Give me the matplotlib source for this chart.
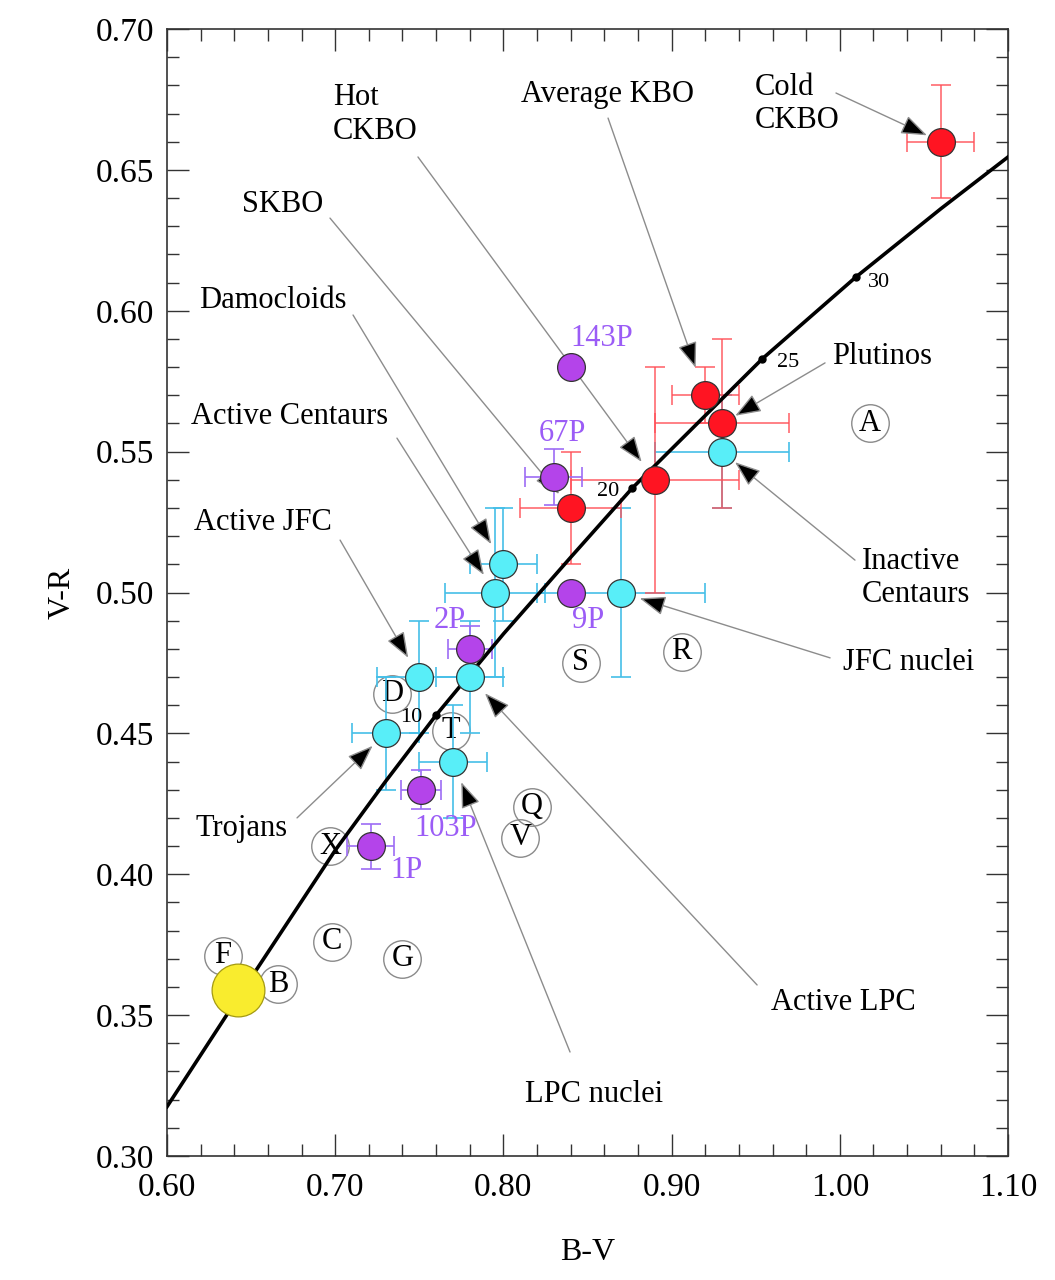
import matplotlib
matplotlib.use("Agg")
import matplotlib.pyplot as plt
import matplotlib.ticker as ticker
import numpy as np

plt.rcParams["font.family"] = ["Liberation Serif", "DejaVu Serif"]

# ── data (B-V, V-R colours) ────────────────────────────────────────────────
# KBO populations (red)
kbo_labels = ["Cold\nCKBO", "Average KBO", "Plutinos", "Hot\nCKBO", "SKBO"]
kbo_bv = [1.06, 0.92, 0.93, 0.89, 0.84]
kbo_vr = [0.66, 0.57, 0.56, 0.54, 0.53]
kbo_bv_err = [0.02, 0.02, 0.04, 0.05, 0.03]
kbo_vr_err = [0.02, 0.01, 0.03, 0.04, 0.02]

# Centaurs, comets, Trojans (cyan)
cen_labels = ["Inactive\nCentaurs", "JFC nuclei", "Damocloids", "Active Centaurs",
              "Active JFC", "Active LPC", "Trojans", "LPC nuclei"]
cen_bv = [0.93, 0.87, 0.80, 0.795, 0.75, 0.78, 0.73, 0.77]
cen_vr = [0.55, 0.50, 0.51, 0.50, 0.47, 0.47, 0.45, 0.44]
cen_bv_err = [0.04, 0.05, 0.02, 0.03, 0.025, 0.02, 0.02, 0.02]
cen_vr_err = [0.02, 0.03, 0.02, 0.03, 0.02, 0.02, 0.02, 0.02]

# individual comets (purple)
comet_labels = ["143P", "67P", "9P", "2P", "103P", "1P"]
comet_bv = [0.84, 0.83, 0.84, 0.78, 0.751, 0.721]
comet_vr = [0.58, 0.541, 0.50, 0.48, 0.43, 0.41]
comet_bv_err = [0.0, 0.017, 0.0, 0.013, 0.012, 0.014]
comet_vr_err = [0.0, 0.010, 0.0, 0.008, 0.007, 0.008]

# Sun
sun_bv = 0.642
sun_vr = 0.359

# asteroid taxonomic classes
tax_letters = ["A", "R", "S", "D", "T", "Q", "V", "X", "C", "G", "F", "B"]
tax_bv = [1.018, 0.906, 0.846, 0.734, 0.769, 0.817, 0.810, 0.697, 0.698, 0.740, 0.633, 0.666]
tax_vr = [0.560, 0.479, 0.475, 0.464, 0.451, 0.424, 0.413, 0.410, 0.376, 0.370, 0.371, 0.361]

# reddening line
curve_bv = [0.600, 0.642, 0.700, 0.730, 0.760, 0.800, 0.840, 0.8765, 0.954, 1.0096, 1.060, 1.100]
curve_vr = [0.3175, 0.356, 0.4085, 0.433, 0.4565, 0.4853, 0.5125, 0.537, 0.583, 0.612, 0.6362, 0.6546]

# gradient marks on the line
grad_labels = ["10", "20", "25", "30"]
grad_bv = [0.760, 0.8765, 0.954, 1.0096]
grad_vr = [0.4565, 0.537, 0.583, 0.612]

# ── layout (text position, arrow start, arrow shrink in pt) ────────────────
kbo_text = [(0.9496, 0.6734, "left"), (0.8616, 0.6766, "center"), (1.0251, 0.5839, "center"),
            (0.6987, 0.6697, "left"), (0.669, 0.6379, "center")]
kbo_arrow = [(0.9977, 0.6773, 11), (0.8622, 0.6684, 21), (0.9912, 0.5815, 11),
             (0.7492, 0.6546, 16), (0.6969, 0.6329, 13)]
cen_text = [(1.0132, 0.5051, "left"), (1.0406, 0.475, "center"), (0.663, 0.6038, "center"),
            (0.6731, 0.5623, "center"), (0.6571, 0.5247, "center"), (1.0019, 0.3543, "center"),
            (0.6446, 0.4164, "center"), (0.8539, 0.3217, "center")]
cen_arrow = [(1.009, 0.5115, 12), (0.9942, 0.4768, 14), (0.7106, 0.5985, 17),
             (0.7367, 0.5548, 15), (0.7029, 0.5186, 16), (0.9508, 0.3607, 16),
             (0.6773, 0.4200, 13), (0.8396, 0.3369, 16)]
comet_text = [(0.8586, 0.5903), (0.8348, 0.5563), (0.8503, 0.4902),
              (0.7683, 0.4902), (0.7659, 0.4164), (0.7421, 0.4012)]
grad_text = [(0.7451, 0.4555), (0.8622, 0.5357), (0.9692, 0.5818), (1.0233, 0.6102)]

RED, RED_ERR = "#ff1422", "#ff5058"
CYAN, CYAN_ERR = "#58eef8", "#45bfe8"
PURPLE, PURPLE_ERR, PURPLE_TXT = "#b444ea", "#9d6cf5", "#9b5cf6"

fig = plt.figure(figsize=(10.55, 12.8), dpi=100)
ax = fig.add_axes([0.1583, 0.0969, 0.7972, 0.8804])


def draw_group(bv, vr, bv_err, vr_err, face, err_col, alpha=1.0):
    for x, y, ex, ey in zip(bv, vr, bv_err, vr_err):
        if ex > 0 or ey > 0:
            ax.errorbar(x, y, xerr=ex, yerr=ey, fmt="none", ecolor=err_col,
                        elinewidth=1.2, capsize=7, capthick=1.2, alpha=alpha, zorder=2)
    ax.plot(bv, vr, "o", ms=20, mfc=face, mec="#333333", mew=0.9, ls="none", zorder=5)


# taxonomic class circles
ax.plot(tax_bv, tax_vr, "o", ms=27, mfc="none", mec="#8a8a8a", mew=1.0, ls="none", zorder=1)
for letter, x, y in zip(tax_letters, tax_bv, tax_vr):
    ax.text(x, y, letter, fontsize=22, ha="center", va="center", zorder=1)

draw_group(cen_bv, cen_vr, cen_bv_err, cen_vr_err, CYAN, CYAN_ERR)
draw_group(kbo_bv, kbo_vr, kbo_bv_err, kbo_vr_err, RED, RED_ERR, alpha=0.85)
draw_group(comet_bv, comet_vr, comet_bv_err, comet_vr_err, PURPLE, PURPLE_ERR)

# reddening line with gradient marks
ax.plot(curve_bv, curve_vr, color="black", lw=2.6, zorder=4, solid_joinstyle="round")
ax.plot(grad_bv, grad_vr, "o", ms=5, color="black", zorder=4)
for lab, (tx, ty) in zip(grad_labels, grad_text):
    ax.text(tx, ty, lab, fontsize=16, ha="center", va="center", zorder=4)

# Sun
ax.plot([sun_bv], [sun_vr], "o", ms=38, mfc="#f9ec2e", mec="#a49a10", mew=0.9, zorder=6)

# labelled arrows
arrow_kw = dict(arrowstyle="-|>,head_length=0.8,head_width=0.3", fc="black",
                ec="#8c8c8c", lw=1.0, shrinkA=0, mutation_scale=20)
for labels, bv, vr, texts, arrows in [(kbo_labels, kbo_bv, kbo_vr, kbo_text, kbo_arrow),
                                      (cen_labels, cen_bv, cen_vr, cen_text, cen_arrow)]:
    for lab, x, y, (tx, ty, ha), (sx, sy, shr) in zip(labels, bv, vr, texts, arrows):
        ax.text(tx, ty, lab, fontsize=22, ha=ha, va="center", linespacing=1.2, zorder=7)
        ax.annotate("", xy=(x, y), xytext=(sx, sy),
                    arrowprops=dict(arrow_kw, shrinkB=shr), zorder=3)

for lab, (tx, ty) in zip(comet_labels, comet_text):
    ax.text(tx, ty, lab, fontsize=22, ha="center", va="center", color=PURPLE_TXT, zorder=7)

# axes
ax.set_xlim(0.60, 1.10)
ax.set_ylim(0.30, 0.70)
ax.xaxis.set_major_locator(ticker.MultipleLocator(0.10))
ax.xaxis.set_minor_locator(ticker.MultipleLocator(0.02))
ax.yaxis.set_major_locator(ticker.MultipleLocator(0.05))
ax.yaxis.set_minor_locator(ticker.MultipleLocator(0.01))
ax.xaxis.set_major_formatter(ticker.FormatStrFormatter("%.2f"))
ax.yaxis.set_major_formatter(ticker.FormatStrFormatter("%.2f"))
ax.tick_params(which="both", direction="in", top=True, right=True, color="#333333",
               width=1.0, labelsize=24)
ax.tick_params(which="major", length=16)
ax.tick_params(which="minor", length=8.5)
ax.tick_params(axis="x", which="major", pad=12)
ax.tick_params(axis="y", which="major", pad=9)
for sp in ax.spines.values():
    sp.set_linewidth(1.2)
    sp.set_color("#333333")

ax.set_xlabel("B-V", fontsize=23)
ax.set_ylabel("V-R", fontsize=23)
ax.xaxis.set_label_coords(0.5, -0.073)
ax.yaxis.set_label_coords(-0.108, 0.5)

fig.savefig("out.png", dpi=100)
